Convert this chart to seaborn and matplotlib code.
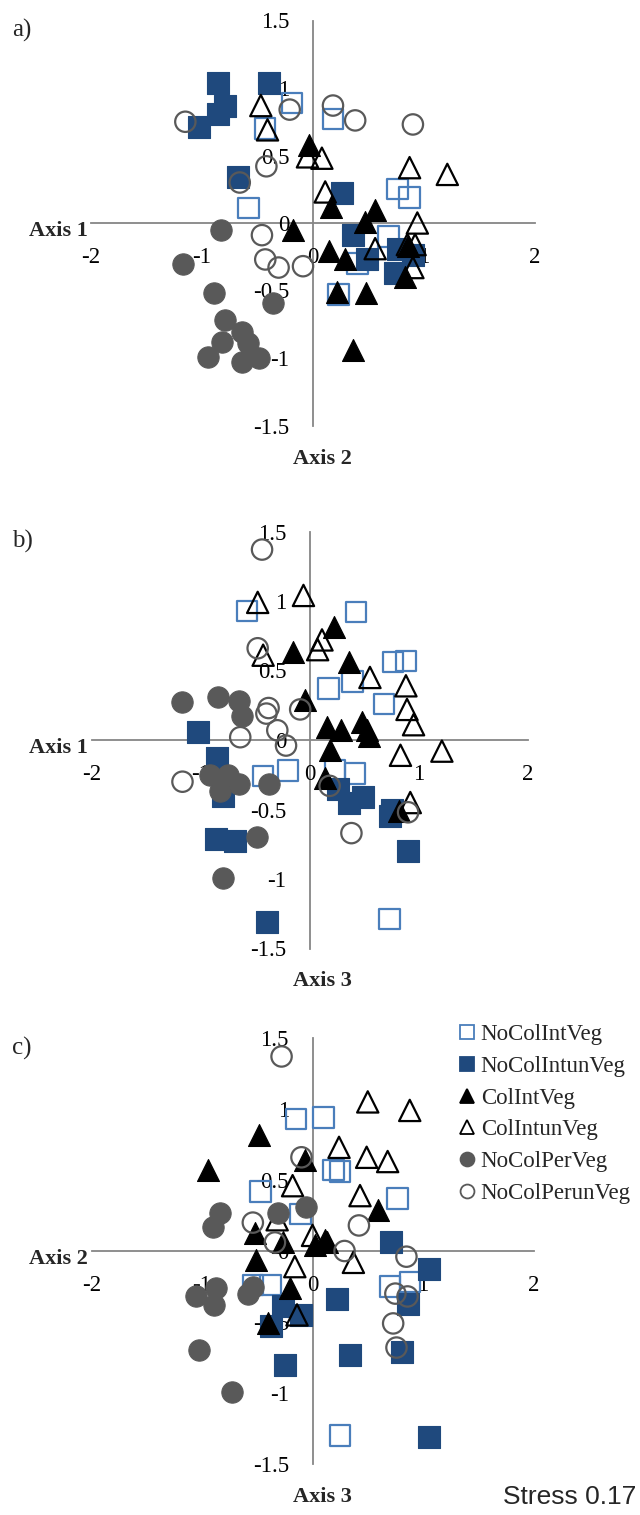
import matplotlib
matplotlib.use('Agg')
import matplotlib.pyplot as plt
import seaborn as sns
import pandas as pd
from matplotlib.lines import Line2D

sns.set_theme(style='white')
plt.rcParams['font.family'] = ['Liberation Serif', 'DejaVu Serif']

groups = ['NoColIntVeg', 'NoColIntunVeg', 'ColIntVeg', 'ColIntunVeg', 'NoColPerVeg', 'NoColPerunVeg']

# ---------------- Panel a (Axis 1 vs Axis 2) ----------------
a_NoColIntVeg_x = [-0.19, -0.43, -0.58, 0.18, 0.76, 0.87, 0.68, 0.40, 0.23]
a_NoColIntVeg_y = [0.89, 0.70, 0.11, 0.77, 0.25, 0.19, -0.10, -0.30, -0.53]
a_NoColIntunVeg_x = [-0.86, -0.40, -0.79, -0.86, -1.03, -0.68, 0.26, 0.36, 0.49, 0.77, 0.90, 0.74]
a_NoColIntunVeg_y = [1.04, 1.04, 0.87, 0.81, 0.71, 0.34, 0.22, -0.09, -0.27, -0.19, -0.24, -0.37]
a_ColIntVeg_x = [-0.04, 0.16, -0.18, 0.56, 0.47, 0.14, 0.29, 0.22, 0.48, 0.83, 0.36, 0.86]
a_ColIntVeg_y = [0.58, 0.12, -0.05, 0.10, 0.01, -0.21, -0.27, -0.51, -0.52, -0.40, -0.94, -0.17]
a_ColIntunVeg_x = [-0.47, -0.41, -0.05, 0.08, 0.11, 0.87, 1.21, 0.94, 0.56, 0.85, 0.92, 0.90]
a_ColIntunVeg_y = [0.87, 0.69, 0.49, 0.48, 0.23, 0.41, 0.36, 0.00, -0.19, -0.16, -0.16, -0.33]
a_NoColPerVeg_x = [-0.83, -1.17, -0.89, -0.36, -0.79, -0.64, -0.82, -0.59, -0.95, -0.64, -0.49]
a_NoColPerVeg_y = [-0.05, -0.30, -0.52, -0.59, -0.72, -0.81, -0.88, -0.89, -0.99, -1.03, -1.00]
a_NoColPerunVeg_x = [-1.15, -0.21, 0.18, 0.38, 0.90, -0.42, -0.66, -0.46, -0.43, -0.31, -0.09]
a_NoColPerunVeg_y = [0.75, 0.84, 0.87, 0.76, 0.73, 0.42, 0.30, -0.09, -0.27, -0.33, -0.32]

# ---------------- Panel b (Axis 1 vs Axis 3) ----------------
b_NoColIntVeg_x = [-0.58, 0.42, 0.76, 0.88, 0.17, 0.39, 0.68, -0.43, -0.20, 0.23, 0.41, 0.73]
b_NoColIntVeg_y = [0.93, 0.92, 0.56, 0.57, 0.37, 0.42, 0.26, -0.26, -0.22, -0.22, -0.24, -1.29]
b_NoColIntunVeg_x = [-1.03, -0.85, -0.80, -0.86, -0.69, -0.39, 0.26, 0.36, 0.49, 0.75, 0.73, 0.90]
b_NoColIntunVeg_y = [0.06, -0.13, -0.40, -0.71, -0.73, -1.31, -0.35, -0.45, -0.41, -0.50, -0.55, -0.80]
b_ColIntVeg_x = [-0.16, -0.05, 0.22, 0.36, 0.16, 0.28, 0.48, 0.52, 0.18, 0.14, 0.82, 0.54]
b_ColIntVeg_y = [0.63, 0.29, 0.81, 0.56, 0.09, 0.07, 0.13, 0.07, -0.07, -0.27, -0.51, 0.03]
b_ColIntunVeg_x = [-0.48, -0.06, 0.11, 0.07, 0.55, 0.88, 0.89, 0.95, 0.83, 1.21, 0.92, -0.43]
b_ColIntunVeg_y = [0.99, 1.04, 0.72, 0.65, 0.45, 0.39, 0.22, 0.11, -0.11, -0.08, -0.45, 0.61]
b_NoColPerVeg_x = [-1.17, -0.84, -0.65, -0.62, -0.92, -0.75, -0.83, -0.65, -0.38, -0.49, -0.80]
b_NoColPerVeg_y = [0.27, 0.31, 0.28, 0.17, -0.25, -0.25, -0.37, -0.32, -0.32, -0.70, -0.99]
b_NoColPerunVeg_x = [-0.44, -0.48, -0.40, -0.38, -0.30, -0.64, -0.09, -0.22, -1.17, 0.18, 0.38, 0.90]
b_NoColPerunVeg_y = [1.37, 0.66, 0.19, 0.23, 0.07, 0.02, 0.22, -0.04, -0.30, -0.33, -0.67, -0.52]

# ---------------- Panel c (Axis 2 vs Axis 3) ----------------
c_NoColIntVeg_x = [-0.15, 0.10, -0.47, -0.11, 0.19, 0.25, 0.77, -0.54, -0.38, 0.70, 0.88, 0.25]
c_NoColIntVeg_y = [0.93, 0.94, 0.42, 0.26, 0.57, 0.56, 0.37, -0.24, -0.24, -0.25, -0.22, -1.30]
c_NoColIntunVeg_x = [-0.27, -0.10, -0.38, -0.25, 0.22, 0.34, 0.71, 1.05, 0.86, 0.81, 1.05]
c_NoColIntunVeg_y = [-0.39, -0.45, -0.53, -0.80, -0.34, -0.73, 0.06, -0.13, -0.37, -0.71, -1.31]
c_ColIntVeg_x = [-0.48, -0.95, -0.07, -0.52, -0.51, -0.27, 0.02, 0.11, 0.59, 0.13, -0.20, -0.40]
c_ColIntVeg_y = [0.82, 0.57, 0.64, 0.13, -0.06, 0.06, 0.04, 0.08, 0.29, 0.06, -0.26, -0.51]
c_ColIntunVeg_x = [0.50, 0.88, 0.24, 0.49, 0.68, 0.43, 0.00, 0.37, -0.18, -0.32, -0.16, -0.14]
c_ColIntunVeg_y = [1.05, 0.99, 0.73, 0.66, 0.63, 0.39, 0.11, -0.08, 0.46, 0.22, -0.11, -0.45]
c_NoColPerVeg_x = [-0.84, -0.90, -0.31, -0.06, -1.05, -0.87, -0.89, -0.58, -0.54, -1.03, -0.73]
c_NoColPerVeg_y = [0.27, 0.17, 0.27, 0.31, -0.32, -0.26, -0.38, -0.30, -0.25, -0.70, -0.99]
c_NoColPerunVeg_x = [-0.28, -0.10, -0.54, -0.34, 0.42, 0.29, 0.85, 0.75, 0.86, 0.73, 0.76]
c_NoColPerunVeg_y = [1.37, 0.66, 0.20, 0.06, 0.18, 0.00, -0.04, -0.30, -0.32, -0.51, -0.68]

x_ticks = [-2, -1, 0, 1, 2]
y_ticks = [-1.5, -1, -0.5, 0, 0.5, 1, 1.5]
y_tick_labels = ['-1.5', '-1', '-0.5', '0', '0.5', '1', '1.5']
x_tick_labels = ['-2', '-1', '0', '1', '2']

styles = {
    'NoColIntVeg':   dict(marker='s', facecolor='none', edgecolor='#4A7EBB', s=215, linewidth=1.6),
    'NoColIntunVeg': dict(marker='s', facecolor='#1F497D', edgecolor='#1F497D', s=235, linewidth=0.8),
    'ColIntVeg':     dict(marker='^', facecolor='black', edgecolor='black', s=250, linewidth=0.8),
    'ColIntunVeg':   dict(marker='^', facecolor='none', edgecolor='black', s=235, linewidth=1.6),
    'NoColPerVeg':   dict(marker='o', facecolor='#595959', edgecolor='#595959', s=235, linewidth=0.8),
    'NoColPerunVeg': dict(marker='o', facecolor='none', edgecolor='#595959', s=215, linewidth=1.6),
}

def make_df(prefix):
    rows = []
    g = globals()
    for grp in groups:
        xs = g[f'{prefix}_{grp}_x']
        ys = g[f'{prefix}_{grp}_y']
        for x, y in zip(xs, ys):
            rows.append((grp, x, y))
    return pd.DataFrame(rows, columns=['group', 'x', 'y'])

W, H = 640, 1515
fig = plt.figure(figsize=(W / 100, H / 100), dpi=100)

def px_axes(x_left, x_right, y_top, y_bottom):
    return fig.add_axes([x_left / W, 1 - y_bottom / H, (x_right - x_left) / W, (y_bottom - y_top) / H])

GRAY = '#868686'
FS = 16.5

def setup(ax):
    ax.set_xlim(-2, 2)
    ax.set_ylim(-1.5, 1.5)
    ax.set_facecolor('none')
    ax.patch.set_alpha(0)
    for sp in ['top', 'right']:
        ax.spines[sp].set_visible(False)
    ax.spines['left'].set_position(('data', 0))
    ax.spines['bottom'].set_position(('data', 0))
    for sp in ['left', 'bottom']:
        ax.spines[sp].set_color(GRAY)
        ax.spines[sp].set_linewidth(1.3)
        ax.spines[sp].set_zorder(0.5)
    ax.set_xticks(x_ticks)
    ax.set_xticklabels(x_tick_labels)
    ax.set_yticks(y_ticks)
    ax.set_yticklabels(y_tick_labels)
    ax.tick_params(axis='both', direction='out', length=5, width=1.3, color=GRAY,
                   labelsize=FS, labelcolor='black', pad=12)
    ax.grid(False)
    ax.set_xlabel('')
    ax.set_ylabel('')

def draw(ax, prefix):
    df = make_df(prefix)
    for grp in groups:
        st = styles[grp]
        sub = df[df['group'] == grp]
        sns.scatterplot(data=sub, x='x', y='y', ax=ax, marker=st['marker'], s=st['s'],
                        facecolor=st['facecolor'], edgecolor=st['edgecolor'],
                        linewidth=st['linewidth'], label=grp, legend=False, clip_on=False,
                        zorder=2)
    setup(ax)

panels = [
    ('a', 91, 535, 20.5, 425.5, 'a)', 'Axis 1', 'Axis 2'),
    ('b', 92, 528, 531.5, 948.5, 'b)', 'Axis 1', 'Axis 3'),
    ('c', 91.5, 533.5, 1038, 1464, 'c)', 'Axis 2', 'Axis 3'),
]

for prefix, xl, xr, yt, yb, lab, hname, vname in panels:
    ax = px_axes(xl, xr, yt, yb)
    draw(ax, prefix)
    y0 = (yt + yb) / 2
    fig.text(12 / W, 1 - (yt + 10) / H, lab, fontsize=18, ha='left', va='center')
    fig.text(58 / W, 1 - (y0 + 8) / H, hname, fontsize=16, fontweight='bold', ha='center', va='center')
    fig.text(322 / W, 1 - (yb + 33) / H, vname, fontsize=16, fontweight='bold', ha='center', va='center')

# legend in panel c
handles = []
for grp in groups:
    st = styles[grp]
    handles.append(Line2D([], [], linestyle='none', marker=st['marker'], markersize=10,
                          markerfacecolor=st['facecolor'], markeredgecolor=st['edgecolor'],
                          markeredgewidth=1.3, label=grp))
fig.legend(handles=handles, loc='upper left', bbox_to_anchor=(460 / W, 1 - 1024 / H),
           frameon=False, fontsize=16.5, handlelength=0.6, handletextpad=0.3,
           labelspacing=0.47, borderaxespad=0, borderpad=0)

fig.text(570 / W, 1 - 1497 / H, 'Stress 0.17', fontsize=19, ha='center', va='center',
         family=['Liberation Sans', 'DejaVu Sans'])

fig.savefig('out.png', dpi=100)
